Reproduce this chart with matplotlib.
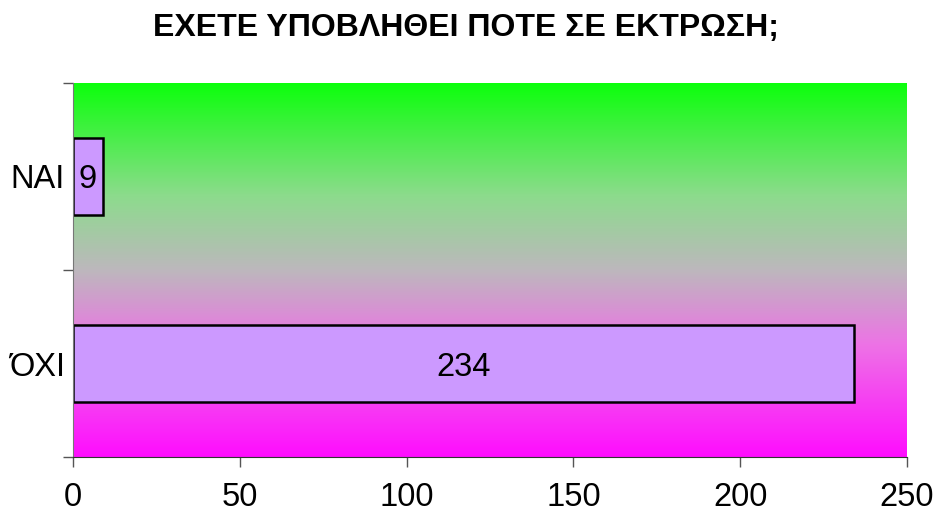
import numpy as np
import matplotlib
matplotlib.use("Agg")
import matplotlib.pyplot as plt
from matplotlib.colors import LinearSegmentedColormap

plt.rcParams['font.family'] = ['Liberation Sans', 'DejaVu Sans']

title = "ΕΧΕΤΕ ΥΠΟΒΛΗΘΕΙ ΠΟΤΕ ΣΕ ΕΚΤΡΩΣΗ;"
categories = ["ΌΧΙ", "ΝΑΙ"]
values = [234, 9]
x_ticks = [0, 50, 100, 150, 200, 250]

fig = plt.figure(figsize=(9.42, 5.15), dpi=100)
ax = fig.add_axes([73 / 942, 58 / 515, 834 / 942, 374 / 515])

# vertical background gradient: magenta at the bottom, grey mid, green at top
grad_cmap = LinearSegmentedColormap.from_list(
    "bg", [(0.0, (1.0, 0.05, 1.0)),
           (0.30, (0.93, 0.45, 0.90)),
           (0.50, (0.74, 0.72, 0.74)),
           (0.70, (0.55, 0.86, 0.55)),
           (1.0, (0.05, 1.0, 0.05))])
grad = np.linspace(0, 1, 256).reshape(-1, 1)
ax.imshow(grad, cmap=grad_cmap, origin="lower", aspect="auto",
          extent=[0, 250, -0.5, 1.5], zorder=0)

ypos = np.arange(len(categories))
bars = ax.barh(ypos, values, height=0.41, color="#CC99FF",
               edgecolor="black", linewidth=1.8, zorder=2)
for b, v in zip(bars, values):
    ax.text(b.get_x() + b.get_width() / 2, b.get_y() + b.get_height() / 2,
            str(v), ha="center", va="center_baseline", fontsize=23.5,
            zorder=3)

ax.set_xlim(0, 250)
ax.set_ylim(-0.5, 1.5)
ax.set_xticks(x_ticks)
ax.set_xticklabels([str(t) for t in x_ticks], fontsize=23.5)
ax.set_yticks(ypos)
ax.set_yticklabels(categories, fontsize=23.5, va="center_baseline")
ax.set_yticks([-0.5, 0.5, 1.5], minor=True)
ax.tick_params(axis="y", which="major", length=0, pad=6)
ax.tick_params(axis="y", which="minor", length=7, width=1, color="#555555",
               direction="out")
ax.tick_params(axis="x", length=7, width=1, color="#555555", direction="out",
               pad=11)

for side in ("top", "right"):
    ax.spines[side].set_visible(False)
ax.spines["left"].set_color("#777777")
ax.spines["bottom"].set_color("#333333")

fig.text(0.495, 0.945, title, ha="center", va="center", fontsize=23,
         fontweight="bold")

fig.savefig("out.png", dpi=100)
